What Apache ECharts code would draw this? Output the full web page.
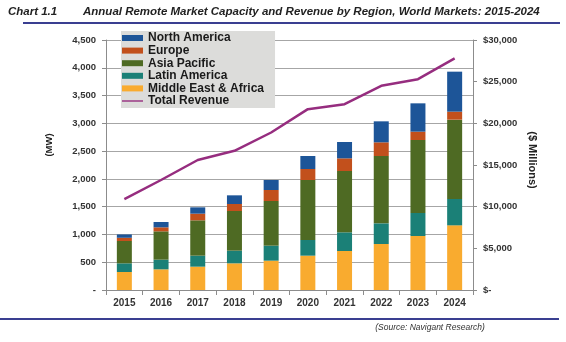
<!DOCTYPE html>
<html>
<head>
<meta charset="utf-8">
<script src="https://cdn.jsdelivr.net/npm/echarts@6/dist/echarts.min.js"></script>
<style>html,body{margin:0;padding:0;background:#fff}#c{width:566px;height:342px}</style>
</head>
<body>
<div id="c"></div>
<script>
var years = ['2015','2016','2017','2018','2019','2020','2021','2022','2023','2024'];
var middleEastAfrica = [324, 372, 420, 480, 528, 618, 702, 828, 972, 1164];
var latinAmerica = [156, 174, 198, 228, 270, 282, 336, 372, 414, 474];
var asiaPacific = [402, 510, 636, 714, 804, 1080, 1104, 1212, 1314, 1428];
var europe = [58, 72, 120, 126, 198, 198, 228, 246, 150, 144];
var northAmerica = [60, 96, 114, 156, 180, 234, 294, 378, 510, 720];
var totalRevenue = [10900, 13200, 15600, 16700, 18900, 21700, 22300, 24500, 25300, 27800];
var seriesNames = ['North America','Europe','Asia Pacific','Latin America','Middle East & Africa','Total Revenue'];
var titleLeft = 'Chart 1.1';
var titleMain = 'Annual Remote Market Capacity and Revenue by Region, World Markets: 2015-2024';
var sourceText = '(Source: Navigant Research)';

var FONT = 'Liberation Sans, Arial, sans-serif';
var chart = echarts.init(document.getElementById('c'), null, {renderer:'canvas'});
function bar(name, data, color) {
  return {name:name, type:'bar', stack:'mw', data:data, barWidth:15,
    itemStyle:{color:color}, yAxisIndex:0};
}
var legendData = seriesNames.map(function(n){
  if (n === 'Total Revenue') return {name:n, icon:'path://M0,0M0,6M0,2.3L21,2.3L21,3.7L0,3.7Z'};
  return {name:n, icon:'rect'};
});
chart.setOption({
  backgroundColor:'#fff',
  animation:false,
  textStyle:{fontFamily:FONT},
  grid:{left:106, right:93, top:40, bottom:52, containLabel:false},
  legend:{
    data:legendData, orient:'vertical', left:121, top:31,
    backgroundColor:'#DCDCDA', padding:[1,11,1,1],
    itemWidth:21, itemHeight:6, itemGap:0.6,
    textStyle:{fontSize:12, fontWeight:'bold', color:'#1a1a1a', lineHeight:12, fontFamily:FONT}
  },
  xAxis:{type:'category', data:years,
    axisLine:{lineStyle:{color:'#8c8c8c'}},
    axisTick:{show:true, length:5, lineStyle:{color:'#8c8c8c'}},
    axisLabel:{fontSize:10, fontWeight:'bold', color:'#333', margin:8}
  },
  yAxis:[{
    type:'value', min:0, max:4500, interval:500, position:'left',
    axisLine:{show:true, lineStyle:{color:'#8c8c8c'}},
    axisTick:{show:true, length:4, lineStyle:{color:'#8c8c8c'}},
    splitLine:{show:true, lineStyle:{color:'#a6a6a6'}},
    axisLabel:{fontSize:9.5, fontWeight:'bold', color:'#333', margin:10,
      formatter:function(v){return v===0?'-':v.toLocaleString('en-US');}}
  },{
    type:'value', min:0, max:30000, interval:5000, position:'right',
    axisLine:{show:true, lineStyle:{color:'#8c8c8c'}},
    axisTick:{show:true, length:4, lineStyle:{color:'#8c8c8c'}},
    splitLine:{show:false},
    axisLabel:{fontSize:9.5, fontWeight:'bold', color:'#333', margin:10,
      formatter:function(v){return v===0?'$-':'$'+v.toLocaleString('en-US');}}
  }],
  series:[
    bar('Middle East & Africa', middleEastAfrica, '#F9AB2F'),
    bar('Latin America', latinAmerica, '#1B8077'),
    bar('Asia Pacific', asiaPacific, '#4E6A23'),
    bar('Europe', europe, '#C2501C'),
    bar('North America', northAmerica, '#1D5598'),
    {name:'Total Revenue', type:'line', yAxisIndex:1, data:totalRevenue,
      symbol:'none', lineStyle:{color:'#962D7F', width:2.5}, itemStyle:{color:'#962D7F'}, z:5}
  ],
  graphic:[
    {type:'text', left:8, top:6, style:{text:titleLeft, font:'italic bold 11.5px '+FONT, fill:'#222'}},
    {type:'text', left:83, top:6, style:{text:titleMain, font:'italic bold 11.5px '+FONT, fill:'#222'}},
    {type:'rect', shape:{x:23, y:22, width:537, height:2}, style:{fill:'#3A3F91'}},
    {type:'rect', shape:{x:0, y:318, width:559, height:2}, style:{fill:'#3A3F91'}},
    {type:'text', x:430, y:328, style:{text:sourceText, font:'italic 8.5px '+FONT, fill:'#333', textAlign:'center', textVerticalAlign:'middle'}},
    {type:'text', x:49, y:145, rotation:Math.PI/2, style:{text:'(MW)', font:'bold 9.5px '+FONT, fill:'#222', textAlign:'center', textVerticalAlign:'middle'}},
    {type:'text', x:532, y:160, rotation:-Math.PI/2, style:{text:'($ Millions)', font:'bold 11px '+FONT, fill:'#222', textAlign:'center', textVerticalAlign:'middle'}}
  ]
});
</script>
</body>
</html>
